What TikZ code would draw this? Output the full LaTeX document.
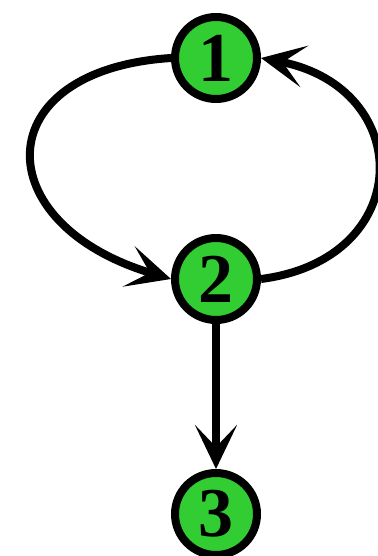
\documentclass[tikz,border=0pt]{standalone}
\usepackage{fontspec}
\setmainfont{Liberation Serif}
\usetikzlibrary{arrows.meta,positioning}
\definecolor{nodegreen}{RGB}{50,205,50}
\tikzset{
  cyclepicture/.style={x=1pt, y=1pt, node distance=131pt},
  cyclenode/.style={circle, draw, line width=8pt, fill=nodegreen, minimum size=82pt, inner sep=0pt, font=\fontsize{70}{70}\selectfont\bfseries},
  cyclearrow/.style={-{Stealth[length=44pt, width=42pt, inset=22pt]}, line width=8pt}
}

\begin{document}
\begin{tikzpicture}[cyclepicture]
\useasboundingbox (0,0) rectangle (377,-556);
\node[cyclenode] (n1) at (216,-58) {1};
\node[cyclenode, below=of n1] (n2) {2};
\node[cyclenode, below=145pt of n2] (n3) {3};
\draw[cyclearrow] (n1.west) .. controls +(-185,-12) and +(-185,55) .. (n2.west);
\draw[cyclearrow] (n2.east) .. controls +(155,20) and +(155,-30) .. (n1.east);
\draw[cyclearrow] (n2) -- (n3);
\end{tikzpicture}
\end{document}
